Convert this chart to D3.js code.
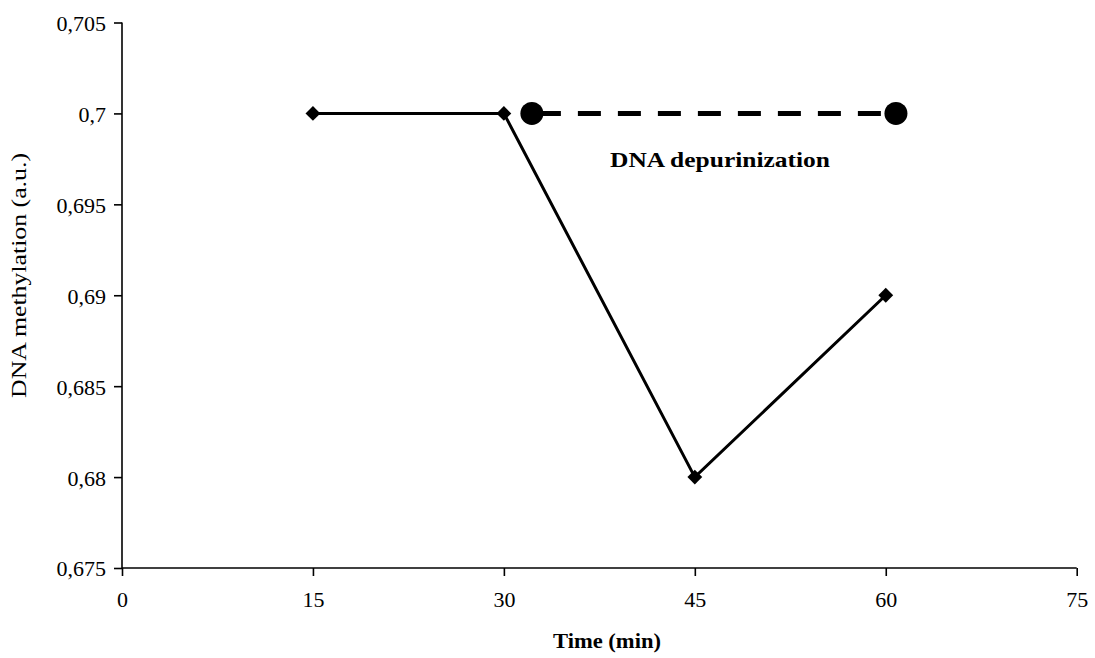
<!DOCTYPE html>
<html>
<head>
<meta charset="utf-8">
<script src="https://cdn.jsdelivr.net/npm/d3@7"></script>
<style>
  body { margin: 0; background: #fff; }
  svg text { font-family: "Liberation Serif", "Times New Roman", serif; fill: #000; }
</style>
</head>
<body>
<svg id="chart" width="1095" height="658"></svg>
<script>
// data
const timePoints = [15, 30, 45, 60];
const methylation = [0.7, 0.7, 0.68, 0.69];
const depurTime = [32.2, 60.8];
const depurValue = [0.7, 0.7];
const xTicks = [0, 15, 30, 45, 60, 75];
const yTicks = [0.675, 0.68, 0.685, 0.69, 0.695, 0.7, 0.705];

const svg = d3.select("#chart");
const margin = { top: 22.5, left: 122, right: 18, bottom: 90 };
const width = 1095, height = 658;
const innerWidth = width - margin.left - margin.right;
const innerHeight = 568 - margin.top;

const g = svg.append("g").attr("transform", `translate(${margin.left}, ${margin.top})`);

const xScale = d3.scaleLinear().domain([0, 75]).range([0, innerWidth - 0.3]);
const yScale = d3.scaleLinear().domain([0.675, 0.705]).range([innerHeight, 0]);

const fmt = d => String(+d.toFixed(3)).replace(".", ",");

// Y-axis
const yAxis = g.append("g")
    .call(d3.axisLeft(yScale).tickValues(yTicks).tickSize(8).tickPadding(8).tickFormat(fmt));
yAxis.selectAll("text").style("font-size", "22px").style("font-family", "Liberation Serif").attr("dy", "0.36em");
yAxis.selectAll("line, path").attr("stroke", "#000").attr("stroke-width", 1.6);
yAxis.select("path").attr("d", `M0,0V${innerHeight}`);

// X-axis
const xAxis = g.append("g")
    .attr("transform", `translate(0,${innerHeight})`)
    .call(d3.axisBottom(xScale).tickValues(xTicks).tickSize(8).tickPadding(15).tickFormat(d3.format("d")));
xAxis.selectAll("text").style("font-size", "22px").style("font-family", "Liberation Serif");
xAxis.selectAll("line, path").attr("stroke", "#000").attr("stroke-width", 1.6);
xAxis.select("path").attr("d", `M0,0H${xScale(75)}`);

// methylation line
const line = d3.line().x(d => xScale(d[0])).y(d => yScale(d[1]));
const mData = timePoints.map((t, i) => [t, methylation[i]]);
g.append("path")
    .datum(mData)
    .attr("d", line)
    .attr("fill", "none")
    .attr("stroke", "#000")
    .attr("stroke-width", 3);

g.selectAll(".diamond")
    .data(mData)
    .enter()
    .append("path")
    .attr("class", "diamond")
    .attr("d", d3.symbol(d3.symbolDiamond2, 140))
    .attr("transform", d => `translate(${xScale(d[0])}, ${yScale(d[1])})`)
    .attr("fill", "#000");

// depurinization line
const dData = depurTime.map((t, i) => [t, depurValue[i]]);
g.append("path")
    .datum(dData)
    .attr("d", line)
    .attr("fill", "none")
    .attr("stroke", "#000")
    .attr("stroke-width", 5)
    .attr("stroke-dasharray", "23,17")
    .attr("stroke-dashoffset", -6);

g.selectAll(".dot")
    .data(dData)
    .enter()
    .append("circle")
    .attr("class", "dot")
    .attr("cx", d => xScale(d[0]))
    .attr("cy", d => yScale(d[1]))
    .attr("r", 11.5)
    .attr("fill", "#000");

// label
g.append("text")
    .attr("x", 610 - margin.left)
    .attr("y", 167 - margin.top)
    .attr("textLength", 220)
    .attr("lengthAdjust", "spacingAndGlyphs")
    .style("font-size", "22px")
    .style("font-weight", "bold")
    .text("DNA depurinization");

// Axis-labels
svg.append("text")
    .attr("x", 553)
    .attr("y", 648)
    .attr("textLength", 108)
    .attr("lengthAdjust", "spacingAndGlyphs")
    .style("font-size", "21px")
    .style("font-weight", "bold")
    .text("Time (min)");

svg.append("text")
    .attr("transform", "rotate(-90)")
    .attr("x", -398)
    .attr("y", 26)
    .attr("textLength", 245)
    .attr("lengthAdjust", "spacingAndGlyphs")
    .style("font-size", "20px")
    .text("DNA methylation (a.u.)");
</script>
</body>
</html>
